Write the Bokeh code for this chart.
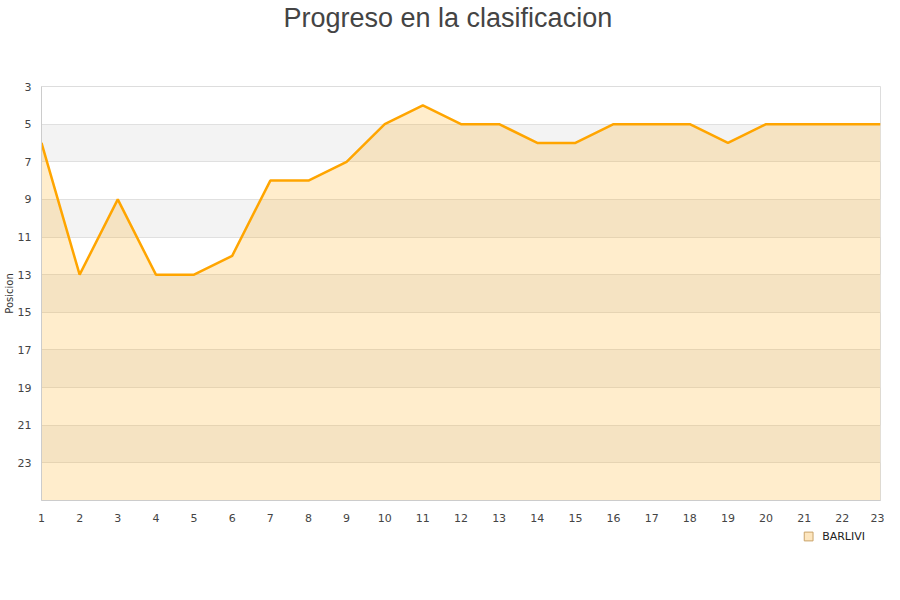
from bokeh.plotting import figure
from bokeh.layouts import column
from bokeh.models import Range1d, FixedTicker, Legend, LegendItem, ColumnDataSource, Title
from bokeh.embed import file_html
from bokeh.resources import INLINE

# Data
jornadas = list(range(1, 24))
posicion = [6, 13, 9, 13, 13, 12, 8, 8, 7, 5, 4, 5, 5, 6, 6, 5, 5, 5, 6, 5, 5, 5, 5]
team = "BARLIVI"
title_text = "Progreso en la clasificacion"
y_ticks = [3, 5, 7, 9, 11, 13, 15, 17, 19, 21, 23]
band_ticks = [5, 7, 9, 11, 13, 15, 17, 19, 21, 23]
y_bottom = 25
y_top = 3

p = figure(width=884, height=524, output_backend="svg", toolbar_location=None,
           title_location=None,
           x_range=Range1d(1, 23), y_range=Range1d(y_bottom, y_top),
           min_border_left=40, min_border_right=4, min_border_top=86, min_border_bottom=22)

# spacer between frame and title, then the title itself
spacer = Title(text=" ", text_font_size="1px", standoff=51)
p.add_layout(spacer, "above")
title = Title(text=title_text, text_font="Liberation Sans", text_font_size="27px",
              text_font_style="normal", text_color="#444444", align="left", standoff=0,
              offset=242)
p.add_layout(title, "above")

p.background_fill_color = "white"
p.border_fill_color = "white"
p.outline_line_color = "#dddddd"

# grid
p.xgrid.visible = False
p.ygrid.ticker = FixedTicker(ticks=band_ticks)
p.ygrid.grid_line_color = "#e0e0e0"
p.ygrid.band_fill_color = "#f3f3f3"
p.ygrid.band_fill_alpha = 1.0

# axes
p.xaxis.ticker = FixedTicker(ticks=jornadas)
p.yaxis.ticker = FixedTicker(ticks=y_ticks)
for ax in (p.xaxis[0], p.yaxis[0]):
    ax.major_tick_line_color = None
    ax.minor_tick_line_color = None
    ax.axis_line_color = "#cccccc"
    ax.major_label_text_font = "DejaVu Sans"
    ax.major_label_text_font_size = "11px"
    ax.major_label_text_color = "#444444"
p.xaxis.major_label_standoff = 7
p.yaxis.major_label_standoff = 4
p.yaxis.axis_label = "Posicion"
p.yaxis.axis_label_text_font = "DejaVu Sans"
p.yaxis.axis_label_text_font_size = "10px"
p.yaxis.axis_label_text_font_style = "normal"
p.yaxis.axis_label_text_color = "#333333"
p.yaxis.axis_label_standoff = 0

src = ColumnDataSource(dict(x=jornadas, y=posicion))
p.varea(x="x", y1="y", y2=y_bottom, source=src, fill_color="#ffa500", fill_alpha=0.2)
p.line(x="x", y="y", source=src, line_color="#ffa500", line_width=2.5)

# legend strip below the chart
p2 = figure(width=884, height=24, output_backend="svg", toolbar_location=None,
            min_border=0, title_location=None)
p2.axis.visible = False
p2.grid.visible = False
p2.outline_line_color = None
p2.background_fill_color = "white"
p2.border_fill_color = "white"
leg_r = p2.scatter(x="x", y="y", source=src, marker="square",
                   fill_color="#fde6bf", line_color="#c9a36a", line_width=1, visible=False)
legend = Legend(items=[LegendItem(label=team, renderers=[leg_r])],
                location="right", background_fill_alpha=0, border_line_color=None,
                label_text_font="DejaVu Sans", label_text_font_size="11px",
                label_text_color="#222222", glyph_width=22, glyph_height=22,
                label_standoff=3, padding=0, margin=15, label_height=12,
                inactive_fill_alpha=0)
p2.add_layout(legend, "center")

open("out.html", "w").write(file_html(column(p, p2), INLINE))
